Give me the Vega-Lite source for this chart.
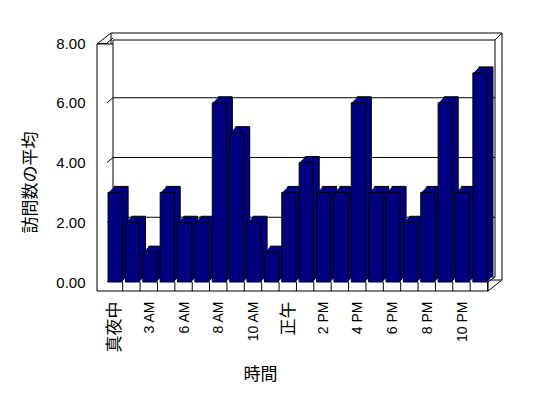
{
  "$schema": "https://vega.github.io/schema/vega-lite/v6.json",
  "autosize": "none",
  "padding": {"left": 107, "top": 43, "right": 60, "bottom": 116},
  "width": 381,
  "height": 239,
  "background": "white",
  "config": {
    "view": {"stroke": null},
    "font": "Liberation Sans",
    "axis": {"domainColor": "black", "tickColor": "black", "labelColor": "black", "titleColor": "black", "grid": false, "zindex": 1}
  },
  "datasets": {
    "visits": [
      {"hour": "真夜中", "avg": 3},
      {"hour": "1 AM", "avg": 2},
      {"hour": "3 AM", "avg": 1},
      {"hour": "4 AM", "avg": 3},
      {"hour": "6 AM", "avg": 2},
      {"hour": "7 AM", "avg": 2},
      {"hour": "8 AM", "avg": 6},
      {"hour": "9 AM", "avg": 5},
      {"hour": "10 AM", "avg": 2},
      {"hour": "11 AM", "avg": 1},
      {"hour": "正午", "avg": 3},
      {"hour": "1 PM", "avg": 4},
      {"hour": "2 PM", "avg": 3},
      {"hour": "3 PM", "avg": 3},
      {"hour": "4 PM", "avg": 6},
      {"hour": "5 PM", "avg": 3},
      {"hour": "6 PM", "avg": 3},
      {"hour": "7 PM", "avg": 2},
      {"hour": "8 PM", "avg": 3},
      {"hour": "9 PM", "avg": 6},
      {"hour": "10 PM", "avg": 3},
      {"hour": "11 PM", "avg": 7}
    ],
    "gridvals": [{"g": 2}, {"g": 4}, {"g": 6}],
    "tickvals": [{"g": 0}, {"g": 2}, {"g": 4}, {"g": 6}, {"g": 8}],
    "one": [{}]
  },
  "layer": [
    {
      "data": {"name": "one"},
      "mark": {"type": "rect", "fill": "white", "stroke": "black", "strokeWidth": 1, "xOffset": 4, "x2Offset": 14, "yOffset": -10, "y2Offset": -2},
      "encoding": {
        "x": {"value": 0},
        "x2": {"value": "width"},
        "y": {"datum": 8, "type": "quantitative", "scale": {"domain": [0, 8], "nice": false}, "title": "訪問数の平均"},
        "y2": {"datum": 0}
      }
    },
    {
      "data": {"name": "one"},
      "mark": {"type": "rect", "fill": "white", "stroke": "black", "strokeWidth": 1, "xOffset": -10, "x2Offset": 0, "yOffset": 1, "y2Offset": 9},
      "encoding": {
        "x": {"value": 0},
        "x2": {"value": "width"},
        "y": {"datum": 8, "type": "quantitative", "title": "訪問数の平均"},
        "y2": {"datum": 0}
      }
    },
    {
      "data": {"name": "one"},
      "mark": {"type": "rect", "fill": "white", "stroke": "black", "strokeWidth": 1, "xOffset": 6, "x2Offset": 7, "yOffset": -3, "y2Offset": -5},
      "encoding": {
        "x": {"value": 0},
        "x2": {"value": "width"},
        "y": {"datum": 8, "type": "quantitative", "title": "訪問数の平均"},
        "y2": {"datum": 0}
      }
    },
    {
      "data": {"name": "one"},
      "mark": {"type": "rule", "color": "black", "strokeWidth": 1, "xOffset": -10, "x2Offset": 4, "yOffset": 1, "y2Offset": -10},
      "encoding": {
        "x": {"value": 0},
        "x2": {"value": 0},
        "y": {"datum": 8, "type": "quantitative", "title": "訪問数の平均"},
        "y2": {"datum": 8}
      }
    },
    {
      "data": {"name": "one"},
      "mark": {"type": "rule", "color": "black", "strokeWidth": 1, "xOffset": 7, "x2Offset": 14, "yOffset": -3, "y2Offset": -10},
      "encoding": {
        "x": {"value": "width"},
        "x2": {"value": "width"},
        "y": {"datum": 8, "type": "quantitative", "title": "訪問数の平均"},
        "y2": {"datum": 8}
      }
    },
    {
      "data": {"name": "one"},
      "mark": {"type": "rule", "color": "black", "strokeWidth": 1, "xOffset": 0, "x2Offset": 14, "yOffset": 9, "y2Offset": -2},
      "encoding": {
        "x": {"value": "width"},
        "x2": {"value": "width"},
        "y": {"datum": 0, "type": "quantitative", "title": "訪問数の平均"},
        "y2": {"datum": 0}
      }
    },
    {
      "data": {"name": "one"},
      "mark": {"type": "rule", "color": "black", "strokeWidth": 1, "xOffset": 0, "x2Offset": 7, "yOffset": 0, "y2Offset": -5},
      "encoding": {
        "x": {"value": "width"},
        "x2": {"value": "width"},
        "y": {"datum": 0, "type": "quantitative", "title": "訪問数の平均"},
        "y2": {"datum": 0}
      }
    },
    {
      "data": {"name": "gridvals"},
      "mark": {"type": "rule", "color": "black", "strokeWidth": 1, "xOffset": 6, "x2Offset": 7, "yOffset": -5},
      "encoding": {
        "x": {"value": 0},
        "x2": {"value": "width"},
        "y": {"field": "g", "type": "quantitative", "title": "訪問数の平均"}
      }
    },
    {
      "data": {"name": "tickvals"},
      "mark": {"type": "rule", "color": "black", "strokeWidth": 1, "xOffset": 0, "x2Offset": 6, "y2Offset": -5},
      "encoding": {
        "x": {"value": 0},
        "x2": {"value": 0},
        "y": {"field": "g", "type": "quantitative", "title": "訪問数の平均"},
        "y2": {"field": "g"}
      }
    },
    {
      "data": {"name": "visits"},
      "mark": {"type": "bar", "fill": "#000080", "stroke": "black", "strokeWidth": 1, "xOffset": 6, "yOffset": -6, "y2Offset": -6},
      "encoding": {
        "x": {"field": "hour", "type": "nominal", "sort": null, "scale": {"paddingInner": 0.19, "paddingOuter": 0.06},
          "title": "時間",
          "axis": {
            "values": ["真夜中", "3 AM", "6 AM", "8 AM", "10 AM", "正午", "2 PM", "4 PM", "6 PM", "8 PM", "10 PM"],
            "ticks": false,
            "labelAngle": -90,
            "labelAlign": "right",
            "labelBaseline": "middle",
            "labelPadding": 19,
            "labelFont": "Liberation Sans, Noto Sans CJK JP",
            "labelFontSize": {"condition": {"test": "datum.value == '真夜中' || datum.value == '正午'", "value": 17}, "value": 14},
            "labelOverlap": false,
            "labelBound": false,
            "labelFlush": false,
            "titleFont": "Noto Sans CJK JP",
            "titleFontSize": 17,
            "titleFontWeight": "normal",
            "titlePadding": 15,
            "titleX": 153,
            "titleAlign": "center"
          }
        },
        "y": {"field": "avg", "type": "quantitative",
          "title": "訪問数の平均",
          "axis": {
            "values": [0, 2, 4, 6, 8],
            "format": ".2f",
            "tickSize": 10,
            "labelPadding": 12,
            "labelFont": "Liberation Sans",
            "labelFontSize": 15,
            "titleFont": "Noto Sans CJK JP",
            "titleFontSize": 17,
            "titleFontWeight": "normal",
            "titlePadding": 16,
            "titleY": 139,
            "titleAlign": "center"
          }
        },
        "y2": {"datum": 0}
      }
    },
    {
      "data": {"name": "visits"},
      "mark": {"type": "bar", "fill": "#000080", "xOffset": 5, "yOffset": -5, "y2Offset": -5},
      "encoding": {"x": {"field": "hour", "type": "nominal", "sort": null}, "y": {"field": "avg", "type": "quantitative", "title": "訪問数の平均"}, "y2": {"datum": 0}}
    },
    {
      "data": {"name": "visits"},
      "mark": {"type": "bar", "fill": "#000080", "xOffset": 4, "yOffset": -4, "y2Offset": -4},
      "encoding": {"x": {"field": "hour", "type": "nominal", "sort": null}, "y": {"field": "avg", "type": "quantitative", "title": "訪問数の平均"}, "y2": {"datum": 0}}
    },
    {
      "data": {"name": "visits"},
      "mark": {"type": "bar", "fill": "#000080", "xOffset": 3, "yOffset": -3, "y2Offset": -3},
      "encoding": {"x": {"field": "hour", "type": "nominal", "sort": null}, "y": {"field": "avg", "type": "quantitative", "title": "訪問数の平均"}, "y2": {"datum": 0}}
    },
    {
      "data": {"name": "visits"},
      "mark": {"type": "bar", "fill": "#000080", "xOffset": 2, "yOffset": -2, "y2Offset": -2},
      "encoding": {"x": {"field": "hour", "type": "nominal", "sort": null}, "y": {"field": "avg", "type": "quantitative", "title": "訪問数の平均"}, "y2": {"datum": 0}}
    },
    {
      "data": {"name": "visits"},
      "mark": {"type": "bar", "fill": "#000080", "xOffset": 1, "yOffset": -1, "y2Offset": -1},
      "encoding": {"x": {"field": "hour", "type": "nominal", "sort": null}, "y": {"field": "avg", "type": "quantitative", "title": "訪問数の平均"}, "y2": {"datum": 0}}
    },
    {
      "data": {"name": "visits"},
      "mark": {"type": "bar", "fill": "#000080", "stroke": "black", "strokeWidth": 1},
      "encoding": {"x": {"field": "hour", "type": "nominal", "sort": null}, "y": {"field": "avg", "type": "quantitative", "title": "訪問数の平均"}, "y2": {"datum": 0}}
    },
    {
      "data": {"name": "visits"},
      "mark": {"type": "rule", "color": "black", "strokeWidth": 1, "xOffset": 0.6, "y2Offset": 9},
      "encoding": {
        "x": {"field": "hour", "type": "nominal", "sort": null, "bandPosition": 1},
        "y": {"datum": 0, "type": "quantitative", "title": "訪問数の平均"},
        "y2": {"datum": 0}
      }
    }
  ]
}
